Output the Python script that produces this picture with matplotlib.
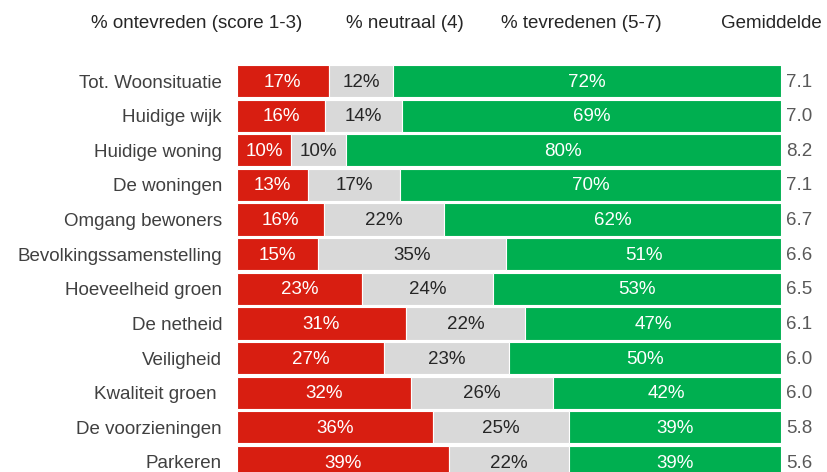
import matplotlib
matplotlib.use("Agg")
import matplotlib.pyplot as plt
import numpy as np

plt.rcParams['font.family'] = ['Liberation Sans', 'DejaVu Sans']

categories = ["Tot. Woonsituatie", "Huidige wijk", "Huidige woning", "De woningen",
              "Omgang bewoners", "Bevolkingssamenstelling", "Hoeveelheid groen",
              "De netheid", "Veiligheid", "Kwaliteit groen ", "De voorzieningen",
              "Parkeren"]
ontevreden = [17, 16, 10, 13, 16, 15, 23, 31, 27, 32, 36, 39]
neutraal = [12, 14, 10, 17, 22, 35, 24, 22, 23, 26, 25, 22]
tevreden = [72, 69, 80, 70, 62, 51, 53, 47, 50, 42, 39, 39]
gemiddelde = [7.1, 7.0, 8.2, 7.1, 6.7, 6.6, 6.5, 6.1, 6.0, 6.0, 5.8, 5.6]

headers = ["% ontevreden (score 1-3)", "% neutraal (4)", "% tevredenen (5-7)", "Gemiddelde"]

RED = "#D81E11"
GREY = "#D9D9D9"
GREEN = "#00AF50"
FS = 13.5

fig = plt.figure(figsize=(8.27, 4.72), dpi=100)
ax = fig.add_axes([237 / 827, -0.0155, 544 / 827, 0.8805])

y = np.arange(len(categories))
series = [ontevreden, neutraal, tevreden]
colors = [RED, GREY, GREEN]
txt_colors = ["white", "#262626", "white"]

totals = np.array(ontevreden) + np.array(neutraal) + np.array(tevreden)
left = np.zeros(len(categories))
for vals, col, tcol in zip(series, colors, txt_colors):
    vals = np.array(vals)
    widths = vals / totals * 100
    ax.barh(y, widths, left=left, height=0.93, color=col, edgecolor="white", linewidth=0.8)
    for yi, l, w, v in zip(y, left, widths, vals):
        ax.text(l + w / 2, yi + 0.03, f"{v}%", ha="center", va="center",
                color=tcol, fontsize=FS)
    left += widths

for yi, g in zip(y, gemiddelde):
    ax.text(100.9, yi + 0.03, f"{g:.1f}", ha="left", va="center",
            color="#595959", fontsize=FS)

ax.set_xlim(0, 100)
ax.set_ylim(len(categories) - 0.5, -0.5)
ax.set_yticks(y)
ax.set_yticklabels(categories, fontsize=FS, color="#404040")
ax.tick_params(axis="y", length=0, pad=10.8)
ax.set_xticks([])
for s in ax.spines.values():
    s.set_visible(False)

# column headers
head_x = [197, 405, 581, 822]
head_ha = ["center", "center", "center", "right"]
for t, hx, ha in zip(headers, head_x, head_ha):
    fig.text(hx / 827, 1 - 23 / 472, t, ha=ha, va="center", fontsize=FS, color="#262626")

fig.savefig("out.png", dpi=100)
